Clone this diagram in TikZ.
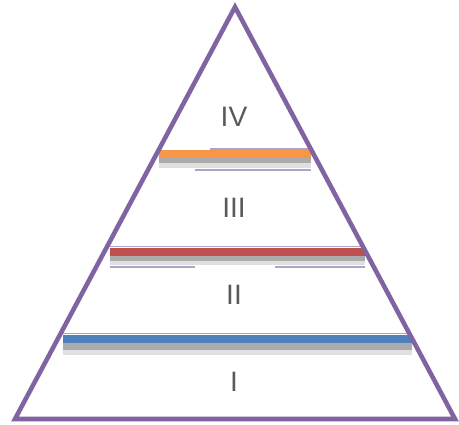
\documentclass[tikz,border=0pt]{standalone}
\usepackage{fontspec}
\setmainfont{Liberation Sans}
\usepackage{xcolor}
\usetikzlibrary{positioning, calc}

\definecolor{pyrpurple}{HTML}{8064A2}
\definecolor{lvlorange}{HTML}{F79646}
\definecolor{lvlred}{HTML}{C0504D}
\definecolor{lvlblue}{HTML}{4F81BD}
\definecolor{lvltext}{HTML}{595959}

\begin{document}
\begin{tikzpicture}[x=0.02cm, y=-0.02cm,
            outline/.style={draw=pyrpurple, line width=2.6pt, line join=miter},
            rim/.style={draw=pyrpurple!60, line width=1.1pt},
            shadedark/.style={fill=black!33},
            shadelight/.style={fill=black!12},
            level/.style={text=lvltext, font=\fontsize{16}{18}\selectfont, inner sep=0pt}]

        \useasboundingbox (0,0) rectangle (459,424);

        % corners of the pyramid
        \coordinate (apex) at (235,7);
        \coordinate (baseL) at (15,419);
        \coordinate (baseR) at (455,419);

        % level I (bottom slab, blue)
        \fill[shadelight] (63,343) rectangle (412,355);
        \fill[shadedark] (63,343) rectangle (412,350);
        \draw[rim] (63,333.5) -- (412,333.5);
        \fill[lvlblue] (63,335) rectangle (412,343);

        % level II (middle slab, red)
        \fill[shadelight] (110,256) rectangle (365,265);
        \fill[shadedark] (110,256) rectangle (365,261);
        \draw[rim] (110,246.5) -- (365,246.5);
        \draw[rim] (110,267) -- (195,267);
        \draw[rim] (275,267) -- (365,267);
        \fill[lvlred] (110,248) rectangle (365,256);

        % level III (top slab, orange)
        \fill[shadelight] (159,158) rectangle (311,168);
        \fill[shadedark] (159,158) rectangle (311,163);
        \draw[rim] (210,149) -- (311,149);
        \draw[rim] (195,170) -- (311,170);
        \fill[lvlorange] (159,150) rectangle (311,158);

        % outline
        \draw[outline] (apex) -- (baseR) -- (baseL) -- cycle;

        % level labels
        \node[level] (lIV) at (234,117) {IV};
        \node[level] (lIII) at (234,208) {III};
        \node[level] (lII) at (234,295) {II};
        \node[level] (lI) at (234,382) {I};

    \end{tikzpicture}
\end{document}
